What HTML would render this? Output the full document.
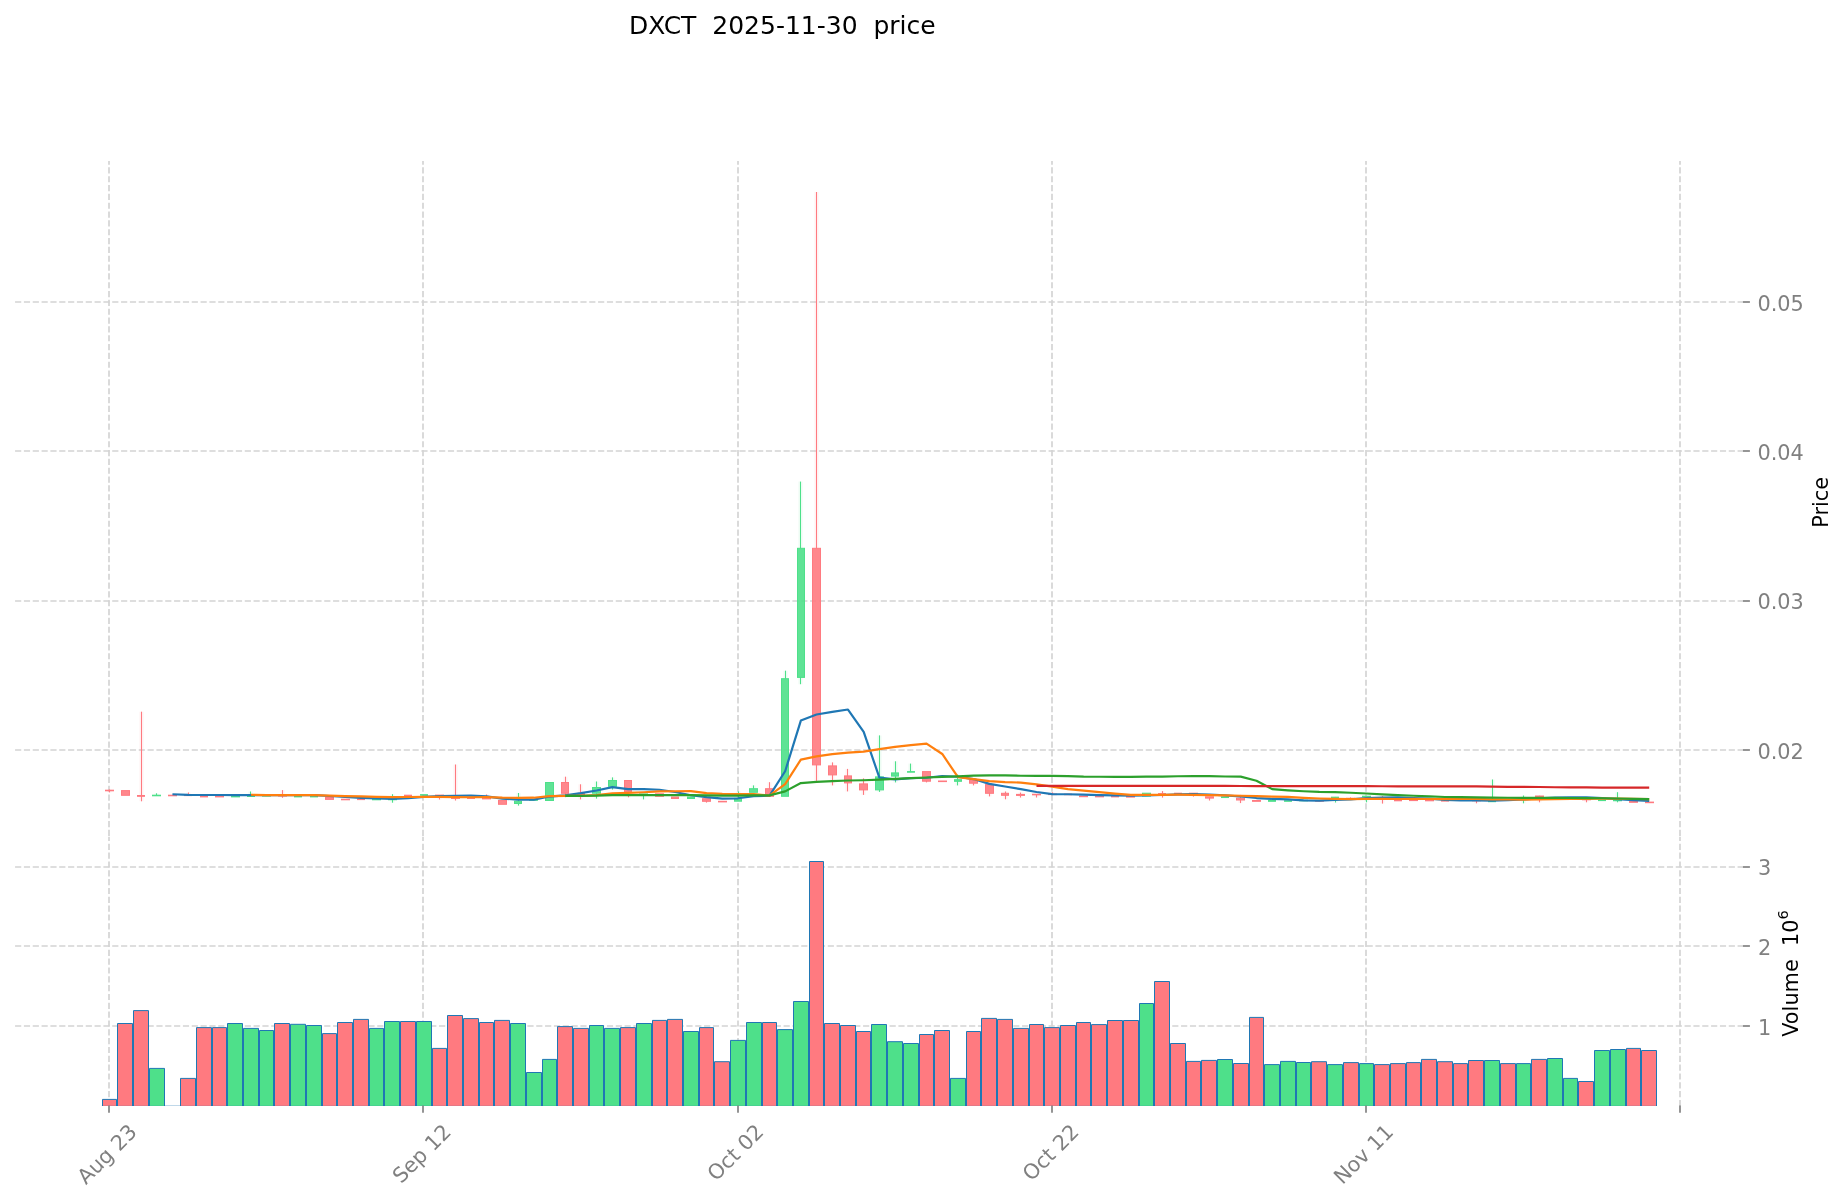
<!DOCTYPE html>
<html><head><meta charset="utf-8"><title>DXCT 2025-11-30 price</title>
<style>html,body{margin:0;padding:0;background:#fff;width:1847px;height:1202px;overflow:hidden}svg{display:block;will-change:transform}</style>
</head><body>
<svg width="1847" height="1202" viewBox="0 0 1847 1202">
<rect width="1847" height="1202" fill="#ffffff"/>
<g stroke="#d3d3d3" stroke-width="1.667" stroke-dasharray="6.1667 2.6667" fill="none"><path d="M15.07 302H1742.9"/><path d="M15.07 451H1742.9"/><path d="M15.07 601H1742.9"/><path d="M15.07 750H1742.9"/><path d="M15.07 1026H1742.9"/><path d="M15.07 946H1742.9"/><path d="M15.07 867H1742.9"/><path d="M109 836V161"/><path d="M109 1106.1V836.8"/><path d="M423 836V161"/><path d="M423 1106.1V836.8"/><path d="M738 836V161"/><path d="M738 1106.1V836.8"/><path d="M1052 836V161"/><path d="M1052 1106.1V836.8"/><path d="M1366 836V161"/><path d="M1366 1106.1V836.8"/><path d="M1680 836V161"/><path d="M1680 1106.1V836.8"/></g>
<g><rect x="102.5" y="1099.4" width="14" height="6.6" fill="#ff7a80"/><rect x="117.5" y="1023.5" width="15" height="82.5" fill="#ff7a80"/><rect x="133.5" y="1010.6" width="15" height="95.4" fill="#ff7a80"/><rect x="149.5" y="1068.4" width="15" height="37.6" fill="#4ee08a"/><rect x="180.5" y="1078.4" width="15" height="27.6" fill="#ff7a80"/><rect x="196.5" y="1027.6" width="15" height="78.4" fill="#ff7a80"/><rect x="212.5" y="1027.6" width="14" height="78.4" fill="#ff7a80"/><rect x="227.5" y="1023.5" width="15" height="82.5" fill="#4ee08a"/><rect x="243.5" y="1028.4" width="15" height="77.6" fill="#4ee08a"/><rect x="259.5" y="1030.5" width="14" height="75.5" fill="#4ee08a"/><rect x="274.5" y="1023.5" width="15" height="82.5" fill="#ff7a80"/><rect x="290.5" y="1024.3" width="15" height="81.7" fill="#4ee08a"/><rect x="306.5" y="1025.5" width="15" height="80.5" fill="#4ee08a"/><rect x="322.5" y="1033.6" width="14" height="72.4" fill="#ff7a80"/><rect x="337.5" y="1022.5" width="15" height="83.5" fill="#ff7a80"/><rect x="353.5" y="1019.4" width="15" height="86.6" fill="#ff7a80"/><rect x="369.5" y="1028.4" width="14" height="77.6" fill="#4ee08a"/><rect x="384.5" y="1021.5" width="15" height="84.5" fill="#4ee08a"/><rect x="400.5" y="1021.5" width="15" height="84.5" fill="#ff7a80"/><rect x="416.5" y="1021.5" width="15" height="84.5" fill="#4ee08a"/><rect x="432.5" y="1048.4" width="14" height="57.6" fill="#ff7a80"/><rect x="447.5" y="1015.5" width="15" height="90.5" fill="#ff7a80"/><rect x="463.5" y="1018.6" width="15" height="87.4" fill="#ff7a80"/><rect x="479.5" y="1022.5" width="14" height="83.5" fill="#ff7a80"/><rect x="494.5" y="1020.4" width="15" height="85.6" fill="#ff7a80"/><rect x="510.5" y="1023.5" width="15" height="82.5" fill="#4ee08a"/><rect x="526.5" y="1072.5" width="15" height="33.5" fill="#4ee08a"/><rect x="542.5" y="1059.4" width="14" height="46.6" fill="#4ee08a"/><rect x="557.5" y="1026.6" width="15" height="79.4" fill="#ff7a80"/><rect x="573.5" y="1028.4" width="15" height="77.6" fill="#ff7a80"/><rect x="589.5" y="1025.5" width="14" height="80.5" fill="#4ee08a"/><rect x="604.5" y="1028.4" width="15" height="77.6" fill="#4ee08a"/><rect x="620.5" y="1027.6" width="15" height="78.4" fill="#ff7a80"/><rect x="636.5" y="1023.5" width="15" height="82.5" fill="#4ee08a"/><rect x="652.5" y="1020.4" width="14" height="85.6" fill="#ff7a80"/><rect x="667.5" y="1019.4" width="15" height="86.6" fill="#ff7a80"/><rect x="683.5" y="1031.5" width="15" height="74.5" fill="#4ee08a"/><rect x="699.5" y="1027.6" width="14" height="78.4" fill="#ff7a80"/><rect x="714.5" y="1061.7" width="15" height="44.3" fill="#ff7a80"/><rect x="730.5" y="1040.4" width="15" height="65.6" fill="#4ee08a"/><rect x="746.5" y="1022.5" width="15" height="83.5" fill="#4ee08a"/><rect x="762.5" y="1022.5" width="14" height="83.5" fill="#ff7a80"/><rect x="777.5" y="1029.6" width="15" height="76.4" fill="#4ee08a"/><rect x="793.5" y="1001.5" width="15" height="104.5" fill="#4ee08a"/><rect x="809.5" y="861.5" width="14" height="244.5" fill="#ff7a80"/><rect x="824.5" y="1023.5" width="15" height="82.5" fill="#ff7a80"/><rect x="840.5" y="1025.5" width="15" height="80.5" fill="#ff7a80"/><rect x="856.5" y="1031.5" width="14" height="74.5" fill="#ff7a80"/><rect x="871.5" y="1024.5" width="15" height="81.5" fill="#4ee08a"/><rect x="887.5" y="1041.7" width="15" height="64.3" fill="#4ee08a"/><rect x="903.5" y="1043.5" width="15" height="62.5" fill="#4ee08a"/><rect x="919.5" y="1034.5" width="14" height="71.5" fill="#ff7a80"/><rect x="934.5" y="1030.5" width="15" height="75.5" fill="#ff7a80"/><rect x="950.5" y="1078.4" width="15" height="27.6" fill="#4ee08a"/><rect x="966.5" y="1031.5" width="14" height="74.5" fill="#ff7a80"/><rect x="981.5" y="1018.4" width="15" height="87.6" fill="#ff7a80"/><rect x="997.5" y="1019.4" width="15" height="86.6" fill="#ff7a80"/><rect x="1013.5" y="1028.4" width="15" height="77.6" fill="#ff7a80"/><rect x="1029.5" y="1024.5" width="14" height="81.5" fill="#ff7a80"/><rect x="1044.5" y="1027.6" width="15" height="78.4" fill="#ff7a80"/><rect x="1060.5" y="1025.5" width="15" height="80.5" fill="#ff7a80"/><rect x="1076.5" y="1022.5" width="14" height="83.5" fill="#ff7a80"/><rect x="1091.5" y="1024.6" width="15" height="81.4" fill="#ff7a80"/><rect x="1107.5" y="1020.5" width="15" height="85.5" fill="#ff7a80"/><rect x="1123.5" y="1020.5" width="15" height="85.5" fill="#ff7a80"/><rect x="1139.5" y="1003.5" width="14" height="102.5" fill="#4ee08a"/><rect x="1154.5" y="981.5" width="15" height="124.5" fill="#ff7a80"/><rect x="1170.5" y="1043.5" width="15" height="62.5" fill="#ff7a80"/><rect x="1186.5" y="1061.4" width="14" height="44.6" fill="#ff7a80"/><rect x="1201.5" y="1060.4" width="15" height="45.6" fill="#ff7a80"/><rect x="1217.5" y="1059.5" width="15" height="46.5" fill="#4ee08a"/><rect x="1233.5" y="1063.5" width="15" height="42.5" fill="#ff7a80"/><rect x="1249.5" y="1017.4" width="14" height="88.6" fill="#ff7a80"/><rect x="1264.5" y="1064.6" width="15" height="41.4" fill="#4ee08a"/><rect x="1280.5" y="1061.4" width="15" height="44.6" fill="#4ee08a"/><rect x="1296.5" y="1062.5" width="14" height="43.5" fill="#4ee08a"/><rect x="1311.5" y="1061.7" width="15" height="44.3" fill="#ff7a80"/><rect x="1327.5" y="1064.6" width="15" height="41.4" fill="#4ee08a"/><rect x="1343.5" y="1062.6" width="15" height="43.4" fill="#ff7a80"/><rect x="1359.5" y="1063.6" width="14" height="42.4" fill="#4ee08a"/><rect x="1374.5" y="1064.6" width="15" height="41.4" fill="#ff7a80"/><rect x="1390.5" y="1063.6" width="15" height="42.4" fill="#ff7a80"/><rect x="1406.5" y="1062.6" width="14" height="43.4" fill="#ff7a80"/><rect x="1421.5" y="1059.4" width="15" height="46.6" fill="#ff7a80"/><rect x="1437.5" y="1061.7" width="15" height="44.3" fill="#ff7a80"/><rect x="1453.5" y="1063.6" width="14" height="42.4" fill="#ff7a80"/><rect x="1468.5" y="1060.5" width="15" height="45.5" fill="#ff7a80"/><rect x="1484.5" y="1060.5" width="15" height="45.5" fill="#4ee08a"/><rect x="1500.5" y="1063.6" width="15" height="42.4" fill="#ff7a80"/><rect x="1516.5" y="1063.6" width="14" height="42.4" fill="#4ee08a"/><rect x="1531.5" y="1059.4" width="15" height="46.6" fill="#ff7a80"/><rect x="1547.5" y="1058.5" width="15" height="47.5" fill="#4ee08a"/><rect x="1563.5" y="1078.4" width="14" height="27.6" fill="#4ee08a"/><rect x="1578.5" y="1081.5" width="15" height="24.5" fill="#ff7a80"/><rect x="1594.5" y="1050.5" width="15" height="55.5" fill="#4ee08a"/><rect x="1610.5" y="1049.5" width="15" height="56.5" fill="#4ee08a"/><rect x="1626.5" y="1048.4" width="14" height="57.6" fill="#ff7a80"/><rect x="1641.5" y="1050.5" width="15" height="55.5" fill="#ff7a80"/></g>
<g stroke="#1f77b4" stroke-width="1" fill="none"><path d="M102.5 1106V1099.4H116.5V1106"/><path d="M117.5 1106V1023.5H132.5V1106"/><path d="M133.5 1106V1010.6H148.5V1106"/><path d="M149.5 1106V1068.4H164.5V1106"/><path d="M165 1105.5H180" stroke-opacity="0.18"/><path d="M180.5 1106V1078.4H195.5V1106"/><path d="M196.5 1106V1027.6H211.5V1106"/><path d="M212.5 1106V1027.6H226.5V1106"/><path d="M227.5 1106V1023.5H242.5V1106"/><path d="M243.5 1106V1028.4H258.5V1106"/><path d="M259.5 1106V1030.5H273.5V1106"/><path d="M274.5 1106V1023.5H289.5V1106"/><path d="M290.5 1106V1024.3H305.5V1106"/><path d="M306.5 1106V1025.5H321.5V1106"/><path d="M322.5 1106V1033.6H336.5V1106"/><path d="M337.5 1106V1022.5H352.5V1106"/><path d="M353.5 1106V1019.4H368.5V1106"/><path d="M369.5 1106V1028.4H383.5V1106"/><path d="M384.5 1106V1021.5H399.5V1106"/><path d="M400.5 1106V1021.5H415.5V1106"/><path d="M416.5 1106V1021.5H431.5V1106"/><path d="M432.5 1106V1048.4H446.5V1106"/><path d="M447.5 1106V1015.5H462.5V1106"/><path d="M463.5 1106V1018.6H478.5V1106"/><path d="M479.5 1106V1022.5H493.5V1106"/><path d="M494.5 1106V1020.4H509.5V1106"/><path d="M510.5 1106V1023.5H525.5V1106"/><path d="M526.5 1106V1072.5H541.5V1106"/><path d="M542.5 1106V1059.4H556.5V1106"/><path d="M557.5 1106V1026.6H572.5V1106"/><path d="M573.5 1106V1028.4H588.5V1106"/><path d="M589.5 1106V1025.5H603.5V1106"/><path d="M604.5 1106V1028.4H619.5V1106"/><path d="M620.5 1106V1027.6H635.5V1106"/><path d="M636.5 1106V1023.5H651.5V1106"/><path d="M652.5 1106V1020.4H666.5V1106"/><path d="M667.5 1106V1019.4H682.5V1106"/><path d="M683.5 1106V1031.5H698.5V1106"/><path d="M699.5 1106V1027.6H713.5V1106"/><path d="M714.5 1106V1061.7H729.5V1106"/><path d="M730.5 1106V1040.4H745.5V1106"/><path d="M746.5 1106V1022.5H761.5V1106"/><path d="M762.5 1106V1022.5H776.5V1106"/><path d="M777.5 1106V1029.6H792.5V1106"/><path d="M793.5 1106V1001.5H808.5V1106"/><path d="M809.5 1106V861.5H823.5V1106"/><path d="M824.5 1106V1023.5H839.5V1106"/><path d="M840.5 1106V1025.5H855.5V1106"/><path d="M856.5 1106V1031.5H870.5V1106"/><path d="M871.5 1106V1024.5H886.5V1106"/><path d="M887.5 1106V1041.7H902.5V1106"/><path d="M903.5 1106V1043.5H918.5V1106"/><path d="M919.5 1106V1034.5H933.5V1106"/><path d="M934.5 1106V1030.5H949.5V1106"/><path d="M950.5 1106V1078.4H965.5V1106"/><path d="M966.5 1106V1031.5H980.5V1106"/><path d="M981.5 1106V1018.4H996.5V1106"/><path d="M997.5 1106V1019.4H1012.5V1106"/><path d="M1013.5 1106V1028.4H1028.5V1106"/><path d="M1029.5 1106V1024.5H1043.5V1106"/><path d="M1044.5 1106V1027.6H1059.5V1106"/><path d="M1060.5 1106V1025.5H1075.5V1106"/><path d="M1076.5 1106V1022.5H1090.5V1106"/><path d="M1091.5 1106V1024.6H1106.5V1106"/><path d="M1107.5 1106V1020.5H1122.5V1106"/><path d="M1123.5 1106V1020.5H1138.5V1106"/><path d="M1139.5 1106V1003.5H1153.5V1106"/><path d="M1154.5 1106V981.5H1169.5V1106"/><path d="M1170.5 1106V1043.5H1185.5V1106"/><path d="M1186.5 1106V1061.4H1200.5V1106"/><path d="M1201.5 1106V1060.4H1216.5V1106"/><path d="M1217.5 1106V1059.5H1232.5V1106"/><path d="M1233.5 1106V1063.5H1248.5V1106"/><path d="M1249.5 1106V1017.4H1263.5V1106"/><path d="M1264.5 1106V1064.6H1279.5V1106"/><path d="M1280.5 1106V1061.4H1295.5V1106"/><path d="M1296.5 1106V1062.5H1310.5V1106"/><path d="M1311.5 1106V1061.7H1326.5V1106"/><path d="M1327.5 1106V1064.6H1342.5V1106"/><path d="M1343.5 1106V1062.6H1358.5V1106"/><path d="M1359.5 1106V1063.6H1373.5V1106"/><path d="M1374.5 1106V1064.6H1389.5V1106"/><path d="M1390.5 1106V1063.6H1405.5V1106"/><path d="M1406.5 1106V1062.6H1420.5V1106"/><path d="M1421.5 1106V1059.4H1436.5V1106"/><path d="M1437.5 1106V1061.7H1452.5V1106"/><path d="M1453.5 1106V1063.6H1467.5V1106"/><path d="M1468.5 1106V1060.5H1483.5V1106"/><path d="M1484.5 1106V1060.5H1499.5V1106"/><path d="M1500.5 1106V1063.6H1515.5V1106"/><path d="M1516.5 1106V1063.6H1530.5V1106"/><path d="M1531.5 1106V1059.4H1546.5V1106"/><path d="M1547.5 1106V1058.5H1562.5V1106"/><path d="M1563.5 1106V1078.4H1577.5V1106"/><path d="M1578.5 1106V1081.5H1593.5V1106"/><path d="M1594.5 1106V1050.5H1609.5V1106"/><path d="M1610.5 1106V1049.5H1625.5V1106"/><path d="M1626.5 1106V1048.4H1640.5V1106"/><path d="M1641.5 1106V1050.5H1656.5V1106"/></g>
<path d="M101.68 1105.5H1657" stroke="#1f77b4" stroke-opacity="0.12" stroke-width="1"/>
<rect x="0" y="1106" width="1847" height="3" fill="#fff"/>
<g><path d="M109.5 789.6V791M109.5 790V792.4" stroke="#ff7a80" stroke-width="4" stroke-opacity="0.1"/><path d="M109.5 789.6V791M109.5 790V792.4" stroke="#ff7a80" stroke-width="1"/><rect x="105.5" y="790.2" width="8" height="0.6" fill="#ff7a80" fill-opacity="0.9" stroke="#ff7a80" stroke-width="1"/><rect x="121.5" y="790.6" width="8" height="4.7" fill="#ff7a80" fill-opacity="0.9" stroke="#ff7a80" stroke-width="1"/><path d="M141.5 711.7V796M141.5 795.8V801.3" stroke="#ff7a80" stroke-width="4" stroke-opacity="0.1"/><path d="M141.5 711.7V796M141.5 795.8V801.3" stroke="#ff7a80" stroke-width="1"/><rect x="137.5" y="795.5" width="7" height="0.8" fill="#ff7a80" fill-opacity="0.9" stroke="#ff7a80" stroke-width="1"/><path d="M156.5 793.3V796" stroke="#4ee08a" stroke-width="4" stroke-opacity="0.1"/><path d="M156.5 793.3V796" stroke="#4ee08a" stroke-width="1"/><rect x="152.5" y="795.2" width="8" height="0.6" fill="#4ee08a" fill-opacity="0.9" stroke="#4ee08a" stroke-width="1"/><rect x="168.5" y="795.2" width="8" height="0.6" fill="#ff7a80" fill-opacity="0.9" stroke="#ff7a80" stroke-width="1"/><path d="M188.5 792.5V795.6" stroke="#ff7a80" stroke-width="4" stroke-opacity="0.1"/><path d="M188.5 792.5V795.6" stroke="#ff7a80" stroke-width="1"/><rect x="184.5" y="795" width="7" height="0.6" fill="#ff7a80" fill-opacity="0.9" stroke="#ff7a80" stroke-width="1"/><rect x="200.5" y="796.3" width="7" height="0.6" fill="#ff7a80" fill-opacity="0.9" stroke="#ff7a80" stroke-width="1"/><rect x="215.5" y="796.3" width="8" height="0.6" fill="#ff7a80" fill-opacity="0.9" stroke="#ff7a80" stroke-width="1"/><rect x="231.5" y="796.3" width="8" height="0.6" fill="#4ee08a" fill-opacity="0.9" stroke="#4ee08a" stroke-width="1"/><path d="M250.5 791.5V796.7" stroke="#4ee08a" stroke-width="4" stroke-opacity="0.1"/><path d="M250.5 791.5V796.7" stroke="#4ee08a" stroke-width="1"/><rect x="247.5" y="795.9" width="7" height="0.6" fill="#4ee08a" fill-opacity="0.9" stroke="#4ee08a" stroke-width="1"/><rect x="262.5" y="795.5" width="8" height="0.6" fill="#4ee08a" fill-opacity="0.9" stroke="#4ee08a" stroke-width="1"/><path d="M282.5 790.1V796M282.5 795.5V797.8" stroke="#ff7a80" stroke-width="4" stroke-opacity="0.1"/><path d="M282.5 790.1V796M282.5 795.5V797.8" stroke="#ff7a80" stroke-width="1"/><rect x="278.5" y="795.45" width="8" height="0.6" fill="#ff7a80" fill-opacity="0.9" stroke="#ff7a80" stroke-width="1"/><rect x="294.5" y="796.3" width="7" height="0.6" fill="#4ee08a" fill-opacity="0.9" stroke="#4ee08a" stroke-width="1"/><rect x="310.5" y="796.3" width="7" height="0.6" fill="#4ee08a" fill-opacity="0.9" stroke="#4ee08a" stroke-width="1"/><rect x="325.5" y="797.5" width="8" height="1.9" fill="#ff7a80" fill-opacity="0.9" stroke="#ff7a80" stroke-width="1"/><rect x="341.5" y="799.2" width="8" height="0.6" fill="#ff7a80" fill-opacity="0.9" stroke="#ff7a80" stroke-width="1"/><rect x="357.5" y="799" width="7" height="0.6" fill="#ff7a80" fill-opacity="0.9" stroke="#ff7a80" stroke-width="1"/><rect x="372.5" y="799.2" width="8" height="0.6" fill="#4ee08a" fill-opacity="0.9" stroke="#4ee08a" stroke-width="1"/><path d="M392.5 794.2V799.95M392.5 798.95V802.7" stroke="#4ee08a" stroke-width="4" stroke-opacity="0.1"/><path d="M392.5 794.2V799.95M392.5 798.95V802.7" stroke="#4ee08a" stroke-width="1"/><rect x="388.5" y="799.15" width="8" height="0.6" fill="#4ee08a" fill-opacity="0.9" stroke="#4ee08a" stroke-width="1"/><rect x="404.5" y="795.2" width="7" height="0.6" fill="#ff7a80" fill-opacity="0.9" stroke="#ff7a80" stroke-width="1"/><rect x="420.5" y="794.65" width="7" height="0.6" fill="#4ee08a" fill-opacity="0.9" stroke="#4ee08a" stroke-width="1"/><path d="M439.5 796V799.5" stroke="#ff7a80" stroke-width="4" stroke-opacity="0.1"/><path d="M439.5 796V799.5" stroke="#ff7a80" stroke-width="1"/><rect x="435.5" y="795.1" width="8" height="1.4" fill="#ff7a80" fill-opacity="0.9" stroke="#ff7a80" stroke-width="1"/><path d="M455.5 764.5V796.6M455.5 797.9V800.5" stroke="#ff7a80" stroke-width="4" stroke-opacity="0.1"/><path d="M455.5 764.5V796.6M455.5 797.9V800.5" stroke="#ff7a80" stroke-width="1"/><rect x="451.5" y="796.1" width="8" height="2.3" fill="#ff7a80" fill-opacity="0.9" stroke="#ff7a80" stroke-width="1"/><rect x="467.5" y="797.85" width="7" height="0.6" fill="#ff7a80" fill-opacity="0.9" stroke="#ff7a80" stroke-width="1"/><path d="M486.5 794.5V798.2" stroke="#ff7a80" stroke-width="4" stroke-opacity="0.1"/><path d="M486.5 794.5V798.2" stroke="#ff7a80" stroke-width="1"/><rect x="482.5" y="797.7" width="8" height="1.2" fill="#ff7a80" fill-opacity="0.9" stroke="#ff7a80" stroke-width="1"/><rect x="498.5" y="800.4" width="8" height="3.9" fill="#ff7a80" fill-opacity="0.9" stroke="#ff7a80" stroke-width="1"/><path d="M518.5 793V801.7M518.5 803V805.6" stroke="#4ee08a" stroke-width="4" stroke-opacity="0.1"/><path d="M518.5 793V801.7M518.5 803V805.6" stroke="#4ee08a" stroke-width="1"/><rect x="514.5" y="801.2" width="7" height="2.3" fill="#4ee08a" fill-opacity="0.9" stroke="#4ee08a" stroke-width="1"/><rect x="529.5" y="799.65" width="8" height="0.6" fill="#4ee08a" fill-opacity="0.9" stroke="#4ee08a" stroke-width="1"/><rect x="545.5" y="782.5" width="8" height="18" fill="#4ee08a" fill-opacity="0.9" stroke="#4ee08a" stroke-width="1"/><path d="M565.5 776.7V783M565.5 792.8V797.2" stroke="#ff7a80" stroke-width="4" stroke-opacity="0.1"/><path d="M565.5 776.7V783M565.5 792.8V797.2" stroke="#ff7a80" stroke-width="1"/><rect x="561.5" y="782.5" width="7" height="10.8" fill="#ff7a80" fill-opacity="0.9" stroke="#ff7a80" stroke-width="1"/><path d="M580.5 784.3V793.9M580.5 794V799.4" stroke="#ff7a80" stroke-width="4" stroke-opacity="0.1"/><path d="M580.5 784.3V793.9M580.5 794V799.4" stroke="#ff7a80" stroke-width="1"/><rect x="577.5" y="793.4" width="7" height="1.1" fill="#ff7a80" fill-opacity="0.9" stroke="#ff7a80" stroke-width="1"/><path d="M596.5 781.5V788M596.5 792.7V798.6" stroke="#4ee08a" stroke-width="4" stroke-opacity="0.1"/><path d="M596.5 781.5V788M596.5 792.7V798.6" stroke="#4ee08a" stroke-width="1"/><rect x="592.5" y="787.5" width="8" height="5.7" fill="#4ee08a" fill-opacity="0.9" stroke="#4ee08a" stroke-width="1"/><path d="M612.5 777.4V781M612.5 785.8V789.6" stroke="#4ee08a" stroke-width="4" stroke-opacity="0.1"/><path d="M612.5 777.4V781M612.5 785.8V789.6" stroke="#4ee08a" stroke-width="1"/><rect x="608.5" y="780.5" width="8" height="5.8" fill="#4ee08a" fill-opacity="0.9" stroke="#4ee08a" stroke-width="1"/><path d="M628.5 791.1V797.3" stroke="#ff7a80" stroke-width="4" stroke-opacity="0.1"/><path d="M628.5 791.1V797.3" stroke="#ff7a80" stroke-width="1"/><rect x="624.5" y="780.5" width="7" height="11.1" fill="#ff7a80" fill-opacity="0.9" stroke="#ff7a80" stroke-width="1"/><path d="M643.5 794.6V799.4" stroke="#4ee08a" stroke-width="4" stroke-opacity="0.1"/><path d="M643.5 794.6V799.4" stroke="#4ee08a" stroke-width="1"/><rect x="639.5" y="793.9" width="8" height="1.2" fill="#4ee08a" fill-opacity="0.9" stroke="#4ee08a" stroke-width="1"/><rect x="655.5" y="793.8" width="8" height="2.5" fill="#ff7a80" fill-opacity="0.9" stroke="#ff7a80" stroke-width="1"/><rect x="671.5" y="797" width="7" height="1.5" fill="#ff7a80" fill-opacity="0.9" stroke="#ff7a80" stroke-width="1"/><rect x="687.5" y="797" width="7" height="1.5" fill="#4ee08a" fill-opacity="0.9" stroke="#4ee08a" stroke-width="1"/><path d="M706.5 800.8V802.6" stroke="#ff7a80" stroke-width="4" stroke-opacity="0.1"/><path d="M706.5 800.8V802.6" stroke="#ff7a80" stroke-width="1"/><rect x="702.5" y="798.7" width="8" height="2.6" fill="#ff7a80" fill-opacity="0.9" stroke="#ff7a80" stroke-width="1"/><rect x="718.5" y="801.3" width="8" height="0.6" fill="#ff7a80" fill-opacity="0.9" stroke="#ff7a80" stroke-width="1"/><path d="M738.5 791.4V798.9" stroke="#4ee08a" stroke-width="4" stroke-opacity="0.1"/><path d="M738.5 791.4V798.9" stroke="#4ee08a" stroke-width="1"/><rect x="734.5" y="798.4" width="7" height="2.8" fill="#4ee08a" fill-opacity="0.9" stroke="#4ee08a" stroke-width="1"/><path d="M753.5 785.4V789.2" stroke="#4ee08a" stroke-width="4" stroke-opacity="0.1"/><path d="M753.5 785.4V789.2" stroke="#4ee08a" stroke-width="1"/><rect x="749.5" y="788.7" width="8" height="3.6" fill="#4ee08a" fill-opacity="0.9" stroke="#4ee08a" stroke-width="1"/><path d="M769.5 782.2V789.2" stroke="#ff7a80" stroke-width="4" stroke-opacity="0.1"/><path d="M769.5 782.2V789.2" stroke="#ff7a80" stroke-width="1"/><rect x="765.5" y="788.7" width="8" height="7.6" fill="#ff7a80" fill-opacity="0.9" stroke="#ff7a80" stroke-width="1"/><path d="M785.5 670.7V679.2" stroke="#4ee08a" stroke-width="4" stroke-opacity="0.1"/><path d="M785.5 670.7V679.2" stroke="#4ee08a" stroke-width="1"/><rect x="781.5" y="678.7" width="7" height="117.6" fill="#4ee08a" fill-opacity="0.9" stroke="#4ee08a" stroke-width="1"/><path d="M800.5 481.6V548.8M800.5 676.9V684.2" stroke="#4ee08a" stroke-width="4" stroke-opacity="0.1"/><path d="M800.5 481.6V548.8M800.5 676.9V684.2" stroke="#4ee08a" stroke-width="1"/><rect x="797.5" y="548.3" width="7" height="129.1" fill="#4ee08a" fill-opacity="0.9" stroke="#4ee08a" stroke-width="1"/><path d="M816.5 192V548.8M816.5 764.4V780.9" stroke="#ff7a80" stroke-width="4" stroke-opacity="0.1"/><path d="M816.5 192V548.8M816.5 764.4V780.9" stroke="#ff7a80" stroke-width="1"/><rect x="812.5" y="548.3" width="8" height="216.6" fill="#ff7a80" fill-opacity="0.9" stroke="#ff7a80" stroke-width="1"/><path d="M832.5 762.4V766.4M832.5 774.4V785.4" stroke="#ff7a80" stroke-width="4" stroke-opacity="0.1"/><path d="M832.5 762.4V766.4M832.5 774.4V785.4" stroke="#ff7a80" stroke-width="1"/><rect x="828.5" y="765.9" width="8" height="9" fill="#ff7a80" fill-opacity="0.9" stroke="#ff7a80" stroke-width="1"/><path d="M847.5 768.9V776.4M847.5 782.4V791.4" stroke="#ff7a80" stroke-width="4" stroke-opacity="0.1"/><path d="M847.5 768.9V776.4M847.5 782.4V791.4" stroke="#ff7a80" stroke-width="1"/><rect x="844.5" y="775.9" width="7" height="7" fill="#ff7a80" fill-opacity="0.9" stroke="#ff7a80" stroke-width="1"/><path d="M863.5 778.4V784.4M863.5 789.4V794.9" stroke="#ff7a80" stroke-width="4" stroke-opacity="0.1"/><path d="M863.5 778.4V784.4M863.5 789.4V794.9" stroke="#ff7a80" stroke-width="1"/><rect x="859.5" y="783.9" width="8" height="6" fill="#ff7a80" fill-opacity="0.9" stroke="#ff7a80" stroke-width="1"/><path d="M879.5 735.4V777.4M879.5 789.4V791.9" stroke="#4ee08a" stroke-width="4" stroke-opacity="0.1"/><path d="M879.5 735.4V777.4M879.5 789.4V791.9" stroke="#4ee08a" stroke-width="1"/><rect x="875.5" y="776.9" width="8" height="13" fill="#4ee08a" fill-opacity="0.9" stroke="#4ee08a" stroke-width="1"/><path d="M895.5 761.3V773.4M895.5 775.6V782.4" stroke="#4ee08a" stroke-width="4" stroke-opacity="0.1"/><path d="M895.5 761.3V773.4M895.5 775.6V782.4" stroke="#4ee08a" stroke-width="1"/><rect x="891.5" y="772.9" width="7" height="3.2" fill="#4ee08a" fill-opacity="0.9" stroke="#4ee08a" stroke-width="1"/><path d="M910.5 763.6V772.1" stroke="#4ee08a" stroke-width="4" stroke-opacity="0.1"/><path d="M910.5 763.6V772.1" stroke="#4ee08a" stroke-width="1"/><rect x="907.5" y="771.6" width="7" height="0.6" fill="#4ee08a" fill-opacity="0.9" stroke="#4ee08a" stroke-width="1"/><path d="M926.5 780.7V782.4" stroke="#ff7a80" stroke-width="4" stroke-opacity="0.1"/><path d="M926.5 780.7V782.4" stroke="#ff7a80" stroke-width="1"/><rect x="922.5" y="771.6" width="8" height="9.6" fill="#ff7a80" fill-opacity="0.9" stroke="#ff7a80" stroke-width="1"/><rect x="938.5" y="781" width="8" height="0.6" fill="#ff7a80" fill-opacity="0.9" stroke="#ff7a80" stroke-width="1"/><path d="M957.5 774.6V780.2M957.5 780.8V785.4" stroke="#4ee08a" stroke-width="4" stroke-opacity="0.1"/><path d="M957.5 774.6V780.2M957.5 780.8V785.4" stroke="#4ee08a" stroke-width="1"/><rect x="954.5" y="779.7" width="7" height="1.6" fill="#4ee08a" fill-opacity="0.9" stroke="#4ee08a" stroke-width="1"/><path d="M973.5 782.7V785.4" stroke="#ff7a80" stroke-width="4" stroke-opacity="0.1"/><path d="M973.5 782.7V785.4" stroke="#ff7a80" stroke-width="1"/><rect x="969.5" y="780.3" width="8" height="2.9" fill="#ff7a80" fill-opacity="0.9" stroke="#ff7a80" stroke-width="1"/><path d="M989.5 792.8V796.4" stroke="#ff7a80" stroke-width="4" stroke-opacity="0.1"/><path d="M989.5 792.8V796.4" stroke="#ff7a80" stroke-width="1"/><rect x="985.5" y="784.6" width="8" height="8.7" fill="#ff7a80" fill-opacity="0.9" stroke="#ff7a80" stroke-width="1"/><path d="M1005.5 791.5V793.8M1005.5 794.8V799.3" stroke="#ff7a80" stroke-width="4" stroke-opacity="0.1"/><path d="M1005.5 791.5V793.8M1005.5 794.8V799.3" stroke="#ff7a80" stroke-width="1"/><rect x="1001.5" y="793.3" width="7" height="2" fill="#ff7a80" fill-opacity="0.9" stroke="#ff7a80" stroke-width="1"/><path d="M1020.5 792.6V794.9M1020.5 794.9V797.5" stroke="#ff7a80" stroke-width="4" stroke-opacity="0.1"/><path d="M1020.5 792.6V794.9M1020.5 794.9V797.5" stroke="#ff7a80" stroke-width="1"/><rect x="1016.5" y="794.4" width="8" height="1" fill="#ff7a80" fill-opacity="0.9" stroke="#ff7a80" stroke-width="1"/><path d="M1036.5 794.2V797.5" stroke="#ff7a80" stroke-width="4" stroke-opacity="0.1"/><path d="M1036.5 794.2V797.5" stroke="#ff7a80" stroke-width="1"/><rect x="1032.5" y="794.25" width="8" height="0.6" fill="#ff7a80" fill-opacity="0.9" stroke="#ff7a80" stroke-width="1"/><path d="M1052.5 792.3V794.8" stroke="#ff7a80" stroke-width="4" stroke-opacity="0.1"/><path d="M1052.5 792.3V794.8" stroke="#ff7a80" stroke-width="1"/><rect x="1048.5" y="794" width="8" height="0.6" fill="#ff7a80" fill-opacity="0.9" stroke="#ff7a80" stroke-width="1"/><rect x="1064.5" y="794.1" width="7" height="0.6" fill="#ff7a80" fill-opacity="0.9" stroke="#ff7a80" stroke-width="1"/><rect x="1079.5" y="796" width="8" height="0.7" fill="#ff7a80" fill-opacity="0.9" stroke="#ff7a80" stroke-width="1"/><rect x="1095.5" y="796.25" width="8" height="0.6" fill="#ff7a80" fill-opacity="0.9" stroke="#ff7a80" stroke-width="1"/><rect x="1111.5" y="796.3" width="7" height="0.6" fill="#ff7a80" fill-opacity="0.9" stroke="#ff7a80" stroke-width="1"/><rect x="1126.5" y="796.5" width="8" height="0.6" fill="#ff7a80" fill-opacity="0.9" stroke="#ff7a80" stroke-width="1"/><rect x="1142.5" y="793.2" width="8" height="2.9" fill="#4ee08a" fill-opacity="0.9" stroke="#4ee08a" stroke-width="1"/><path d="M1162.5 791.1V794.1M1162.5 794.7V797.6" stroke="#ff7a80" stroke-width="4" stroke-opacity="0.1"/><path d="M1162.5 791.1V794.1M1162.5 794.7V797.6" stroke="#ff7a80" stroke-width="1"/><rect x="1158.5" y="793.6" width="7" height="1.6" fill="#ff7a80" fill-opacity="0.9" stroke="#ff7a80" stroke-width="1"/><rect x="1174.5" y="793.2" width="7" height="0.7" fill="#ff7a80" fill-opacity="0.9" stroke="#ff7a80" stroke-width="1"/><path d="M1193.5 795V796.6" stroke="#ff7a80" stroke-width="4" stroke-opacity="0.1"/><path d="M1193.5 795V796.6" stroke="#ff7a80" stroke-width="1"/><rect x="1189.5" y="793.2" width="8" height="2.3" fill="#ff7a80" fill-opacity="0.9" stroke="#ff7a80" stroke-width="1"/><path d="M1209.5 797.6V800.5" stroke="#ff7a80" stroke-width="4" stroke-opacity="0.1"/><path d="M1209.5 797.6V800.5" stroke="#ff7a80" stroke-width="1"/><rect x="1205.5" y="796.8" width="8" height="1.3" fill="#ff7a80" fill-opacity="0.9" stroke="#ff7a80" stroke-width="1"/><rect x="1221.5" y="796.95" width="7" height="0.6" fill="#4ee08a" fill-opacity="0.9" stroke="#4ee08a" stroke-width="1"/><path d="M1240.5 794.9V798.6M1240.5 799.5V803.1" stroke="#ff7a80" stroke-width="4" stroke-opacity="0.1"/><path d="M1240.5 794.9V798.6M1240.5 799.5V803.1" stroke="#ff7a80" stroke-width="1"/><rect x="1236.5" y="798.1" width="8" height="1.9" fill="#ff7a80" fill-opacity="0.9" stroke="#ff7a80" stroke-width="1"/><rect x="1252.5" y="800.5" width="8" height="0.8" fill="#ff7a80" fill-opacity="0.9" stroke="#ff7a80" stroke-width="1"/><rect x="1268.5" y="800.4" width="7" height="0.9" fill="#4ee08a" fill-opacity="0.9" stroke="#4ee08a" stroke-width="1"/><rect x="1284.5" y="800.7" width="7" height="0.6" fill="#4ee08a" fill-opacity="0.9" stroke="#4ee08a" stroke-width="1"/><rect x="1299.5" y="800.2" width="8" height="0.6" fill="#4ee08a" fill-opacity="0.9" stroke="#4ee08a" stroke-width="1"/><rect x="1315.5" y="800.6" width="8" height="0.6" fill="#ff7a80" fill-opacity="0.9" stroke="#ff7a80" stroke-width="1"/><path d="M1335.5 796.95V802.5" stroke="#4ee08a" stroke-width="4" stroke-opacity="0.1"/><path d="M1335.5 796.95V802.5" stroke="#4ee08a" stroke-width="1"/><rect x="1331.5" y="797.15" width="7" height="0.6" fill="#4ee08a" fill-opacity="0.9" stroke="#4ee08a" stroke-width="1"/><path d="M1350.5 797.4V798.8" stroke="#ff7a80" stroke-width="4" stroke-opacity="0.1"/><path d="M1350.5 797.4V798.8" stroke="#ff7a80" stroke-width="1"/><rect x="1346.5" y="798.3" width="8" height="0.7" fill="#ff7a80" fill-opacity="0.9" stroke="#ff7a80" stroke-width="1"/><path d="M1366.5 796.1V802.3" stroke="#4ee08a" stroke-width="4" stroke-opacity="0.1"/><path d="M1366.5 796.1V802.3" stroke="#4ee08a" stroke-width="1"/><rect x="1362.5" y="796.2" width="8" height="0.6" fill="#4ee08a" fill-opacity="0.9" stroke="#4ee08a" stroke-width="1"/><path d="M1382.5 796.1V798.5M1382.5 798.5V803.6" stroke="#ff7a80" stroke-width="4" stroke-opacity="0.1"/><path d="M1382.5 796.1V798.5M1382.5 798.5V803.6" stroke="#ff7a80" stroke-width="1"/><rect x="1378.5" y="798" width="7" height="1" fill="#ff7a80" fill-opacity="0.9" stroke="#ff7a80" stroke-width="1"/><rect x="1394.5" y="800.2" width="7" height="0.6" fill="#ff7a80" fill-opacity="0.9" stroke="#ff7a80" stroke-width="1"/><rect x="1409.5" y="800" width="8" height="0.6" fill="#ff7a80" fill-opacity="0.9" stroke="#ff7a80" stroke-width="1"/><rect x="1425.5" y="800.2" width="8" height="0.6" fill="#ff7a80" fill-opacity="0.9" stroke="#ff7a80" stroke-width="1"/><rect x="1441.5" y="800.5" width="7" height="0.6" fill="#ff7a80" fill-opacity="0.9" stroke="#ff7a80" stroke-width="1"/><rect x="1456.5" y="799.9" width="8" height="0.6" fill="#ff7a80" fill-opacity="0.9" stroke="#ff7a80" stroke-width="1"/><path d="M1476.5 800V803.3" stroke="#ff7a80" stroke-width="4" stroke-opacity="0.1"/><path d="M1476.5 800V803.3" stroke="#ff7a80" stroke-width="1"/><rect x="1472.5" y="800.2" width="8" height="0.6" fill="#ff7a80" fill-opacity="0.9" stroke="#ff7a80" stroke-width="1"/><path d="M1492.5 779.5V801.9" stroke="#4ee08a" stroke-width="4" stroke-opacity="0.1"/><path d="M1492.5 779.5V801.9" stroke="#4ee08a" stroke-width="1"/><rect x="1488.5" y="801.1" width="7" height="0.6" fill="#4ee08a" fill-opacity="0.9" stroke="#4ee08a" stroke-width="1"/><rect x="1504.5" y="799.6" width="7" height="0.6" fill="#ff7a80" fill-opacity="0.9" stroke="#ff7a80" stroke-width="1"/><path d="M1523.5 795.5V799.5M1523.5 799V803.3" stroke="#4ee08a" stroke-width="4" stroke-opacity="0.1"/><path d="M1523.5 795.5V799.5M1523.5 799V803.3" stroke="#4ee08a" stroke-width="1"/><rect x="1519.5" y="798.95" width="8" height="0.6" fill="#4ee08a" fill-opacity="0.9" stroke="#4ee08a" stroke-width="1"/><path d="M1539.5 795.8V802.3" stroke="#ff7a80" stroke-width="4" stroke-opacity="0.1"/><path d="M1539.5 795.8V802.3" stroke="#ff7a80" stroke-width="1"/><rect x="1535.5" y="796" width="8" height="0.6" fill="#ff7a80" fill-opacity="0.9" stroke="#ff7a80" stroke-width="1"/><rect x="1551.5" y="797.7" width="7" height="0.6" fill="#4ee08a" fill-opacity="0.9" stroke="#4ee08a" stroke-width="1"/><rect x="1566.5" y="798.7" width="8" height="0.6" fill="#4ee08a" fill-opacity="0.9" stroke="#4ee08a" stroke-width="1"/><path d="M1586.5 799V802.3" stroke="#ff7a80" stroke-width="4" stroke-opacity="0.1"/><path d="M1586.5 799V802.3" stroke="#ff7a80" stroke-width="1"/><rect x="1582.5" y="799.2" width="8" height="0.6" fill="#ff7a80" fill-opacity="0.9" stroke="#ff7a80" stroke-width="1"/><rect x="1598.5" y="800" width="7" height="0.6" fill="#4ee08a" fill-opacity="0.9" stroke="#4ee08a" stroke-width="1"/><path d="M1617.5 792.2V800.95M1617.5 799.95V802.3" stroke="#4ee08a" stroke-width="4" stroke-opacity="0.1"/><path d="M1617.5 792.2V800.95M1617.5 799.95V802.3" stroke="#4ee08a" stroke-width="1"/><rect x="1613.5" y="800.15" width="8" height="0.6" fill="#4ee08a" fill-opacity="0.9" stroke="#4ee08a" stroke-width="1"/><rect x="1629.5" y="801.5" width="8" height="0.8" fill="#ff7a80" fill-opacity="0.9" stroke="#ff7a80" stroke-width="1"/><rect x="1645.5" y="802.1" width="8" height="0.6" fill="#ff7a80" fill-opacity="0.9" stroke="#ff7a80" stroke-width="1"/></g>
<polyline points="172.44,794.24 188.15,794.94 203.86,795.02 219.57,794.98 235.28,795.14 250.99,795.21 266.7,795.22 282.41,795.12 298.12,795.13 313.83,795.22 329.54,795.99 345.25,797.02 360.96,797.82 376.68,798.42 392.39,798.86 408.1,798.05 423.81,796.85 439.52,796.1 455.23,795.77 470.94,795.63 486.65,796.39 502.36,798.56 518.07,799.57 533.78,799.68 549.49,796.53 565.2,795.36 580.91,793.17 596.62,790.53 612.33,787.1 628.04,789.05 643.75,789.16 659.46,789.77 675.17,791.98 690.88,795.22 706.59,797.11 722.3,798.64 738.01,798.28 753.72,796.18 769.43,795.86 785.14,771.24 800.85,720.57 816.56,714.5 832.27,711.92 847.98,709.51 863.69,731.89 879.4,777.71 895.12,779.34 910.83,778.2 926.54,777.75 942.25,776.02 957.96,776.73 973.67,779.06 989.38,783.89 1005.09,786.47 1020.8,789.09 1036.51,791.98 1052.22,794.09 1067.93,794.23 1083.64,794.65 1099.35,795.03 1115.06,795.35 1130.77,795.77 1146.48,795.51 1162.19,795.02 1177.9,794.35 1193.61,794.21 1209.32,794.52 1225.03,795.28 1240.74,796.48 1256.45,798.03 1272.16,798.88 1287.87,799.4 1303.58,800.32 1319.29,800.55 1335,799.79 1350.71,799.45 1366.42,798.19 1382.13,797.61 1397.84,797.46 1413.55,798.09 1429.27,798.59 1444.98,799.95 1460.69,800.4 1476.4,800.49 1492.11,800.54 1507.82,800.16 1523.53,799.4 1539.24,798.28 1554.95,797.63 1570.66,797.28 1586.37,797.43 1602.08,797.98 1617.79,799.13 1633.5,800.22 1649.21,801.01" fill="none" stroke="#1f77b4" stroke-width="2.2" stroke-linejoin="round" stroke-linecap="butt"/>
<polyline points="250.99,794.73 266.7,795.08 282.41,795.07 298.12,795.06 313.83,795.18 329.54,795.6 345.25,796.12 360.96,796.47 376.68,796.78 392.39,797.04 408.1,797.02 423.81,796.93 439.52,796.96 455.23,797.1 470.94,797.25 486.65,797.22 502.36,797.71 518.07,797.83 533.78,797.72 549.49,796.08 565.2,795.87 580.91,795.87 596.62,795.05 612.33,793.39 628.04,792.79 643.75,792.26 659.46,791.47 675.17,791.26 690.88,791.16 706.59,793.08 722.3,793.9 738.01,794.02 753.72,794.08 769.43,795.54 785.14,784.18 800.85,759.6 816.56,756.39 832.27,754.05 847.98,752.68 863.69,751.57 879.4,749.14 895.12,746.92 910.83,745.06 926.54,743.63 942.25,753.96 957.96,777.22 973.67,779.2 989.38,781.04 1005.09,782.11 1020.8,782.56 1036.51,784.35 1052.22,786.57 1067.93,789.06 1083.64,790.56 1099.35,792.06 1115.06,793.66 1130.77,794.93 1146.48,794.87 1162.19,794.84 1177.9,794.69 1193.61,794.78 1209.32,795.15 1225.03,795.39 1240.74,795.75 1256.45,796.19 1272.16,796.54 1287.87,796.96 1303.58,797.8 1319.29,798.51 1335,798.91 1350.71,799.17 1366.42,798.79 1382.13,798.96 1397.84,799 1413.55,798.94 1429.27,799.02 1444.98,799.07 1460.69,799 1476.4,798.97 1492.11,799.31 1507.82,799.37 1523.53,799.67 1539.24,799.34 1554.95,799.06 1570.66,798.91 1586.37,798.79 1602.08,798.69 1617.79,798.71 1633.5,798.93 1649.21,799.15" fill="none" stroke="#ff7f0e" stroke-width="2.2" stroke-linejoin="round" stroke-linecap="butt"/>
<polyline points="565.2,795.87 580.91,795.96 596.62,795.69 612.33,795.18 628.04,795.07 643.75,795.03 659.46,795.1 675.17,795.19 690.88,795.22 706.59,795.4 722.3,795.6 738.01,795.61 753.72,795.36 769.43,795.34 785.14,791.4 800.85,783.03 816.56,781.86 832.27,781.05 847.98,780.52 863.69,780.24 879.4,779.64 895.12,778.94 910.83,778.06 926.54,777.52 942.25,776.97 957.96,776.36 973.67,775.69 989.38,775.45 1005.09,775.32 1020.8,775.73 1036.51,775.8 1052.22,775.84 1067.93,776.06 1083.64,776.58 1099.35,776.73 1115.06,776.83 1130.77,776.84 1146.48,776.65 1162.19,776.54 1177.9,776.27 1193.61,776.09 1209.32,776.21 1225.03,776.5 1240.74,776.65 1256.45,780.73 1272.16,789.14 1287.87,790.36 1303.58,791.24 1319.29,791.82 1335,792.05 1350.71,792.77 1366.42,793.51 1382.13,794.47 1397.84,795.11 1413.55,795.73 1429.27,796.41 1444.98,796.99 1460.69,797.22 1476.4,797.44 1492.11,797.64 1507.82,797.77 1523.53,797.87 1539.24,797.9 1554.95,797.94 1570.66,798.01 1586.37,798.12 1602.08,798.24 1617.79,798.5 1633.5,798.8 1649.21,799.13" fill="none" stroke="#2ca02c" stroke-width="2.2" stroke-linejoin="round" stroke-linecap="butt"/>
<polyline points="1036.51,785.84 1052.22,785.9 1067.93,785.88 1083.64,785.88 1099.35,785.9 1115.06,785.93 1130.77,785.97 1146.48,785.92 1162.19,785.88 1177.9,785.83 1193.61,785.84 1209.32,785.91 1225.03,785.93 1240.74,785.99 1256.45,786.07 1272.16,786.08 1287.87,786.11 1303.58,786.14 1319.29,786.17 1335,786.15 1350.71,786.2 1366.42,786.22 1382.13,786.27 1397.84,786.31 1413.55,786.35 1429.27,786.38 1444.98,786.34 1460.69,786.34 1476.4,786.38 1492.11,786.69 1507.82,786.78 1523.53,786.85 1539.24,786.98 1554.95,787.26 1570.66,787.37 1586.37,787.47 1602.08,787.54 1617.79,787.58 1633.5,787.67 1649.21,787.7" fill="none" stroke="#d62728" stroke-width="2.2" stroke-linejoin="round" stroke-linecap="butt"/>
<g stroke="#808080" stroke-width="1.667"><path d="M1742.9 302H1749.9"/><path d="M1742.9 451H1749.9"/><path d="M1742.9 601H1749.9"/><path d="M1742.9 750H1749.9"/><path d="M1742.9 1026H1749.9"/><path d="M1742.9 946H1749.9"/><path d="M1742.9 867H1749.9"/><path d="M109 1105.5V1112.79"/><path d="M423 1105.5V1112.79"/><path d="M738 1105.5V1112.79"/><path d="M1052 1105.5V1112.79"/><path d="M1366 1105.5V1112.79"/><path d="M1680 1105.5V1112.79"/></g>
<g font-family="'DejaVu Sans', 'Liberation Sans', sans-serif" font-size="20.83" fill="#808080"><text x="1757.5" y="303.8" dominant-baseline="central">0.05</text><text x="1757.5" y="453.17" dominant-baseline="central">0.04</text><text x="1757.5" y="601.53" dominant-baseline="central">0.03</text><text x="1757.5" y="751.9" dominant-baseline="central">0.02</text><text x="1757.9" y="1027.85" dominant-baseline="central">1</text><text x="1757.9" y="947.85" dominant-baseline="central">2</text><text x="1757.9" y="867.8" dominant-baseline="central">3</text><text x="107.2" y="1154.3" text-anchor="middle" dominant-baseline="central" transform="rotate(-45 107.2 1154.3)">Aug 23</text><text x="421.8" y="1153.8" text-anchor="middle" dominant-baseline="central" transform="rotate(-45 421.8 1153.8)">Sep 12</text><text x="735.5" y="1152.65" text-anchor="middle" dominant-baseline="central" transform="rotate(-45 735.5 1152.65)">Oct 02</text><text x="1050.8" y="1152.65" text-anchor="middle" dominant-baseline="central" transform="rotate(-45 1050.8 1152.65)">Oct 22</text><text x="1363.7" y="1154.29" text-anchor="middle" dominant-baseline="central" transform="rotate(-45 1363.7 1154.29)">Nov 11</text></g>
<text font-family="'DejaVu Sans', 'Liberation Sans', sans-serif" font-size="20.83" fill="#000" x="1821.5" y="502.4" text-anchor="middle" dominant-baseline="central" transform="rotate(-90 1821.5 502.4)">Price</text>
<text font-family="'DejaVu Sans', 'Liberation Sans', sans-serif" font-size="20.83" fill="#000" x="1790.5" y="973.5" text-anchor="middle" dominant-baseline="central" transform="rotate(-90 1790.5 973.5)" xml:space="preserve">Volume&#160;&#160;10<tspan font-size="14.6" dy="-8.5">6</tspan></text>
<text font-family="'DejaVu Sans', 'Liberation Sans', sans-serif" font-size="25" fill="#000" x="782.4" y="34.1" text-anchor="middle" xml:space="preserve">DXCT&#160;&#160;2025-11-30&#160;&#160;price</text>
</svg>
</body></html>
